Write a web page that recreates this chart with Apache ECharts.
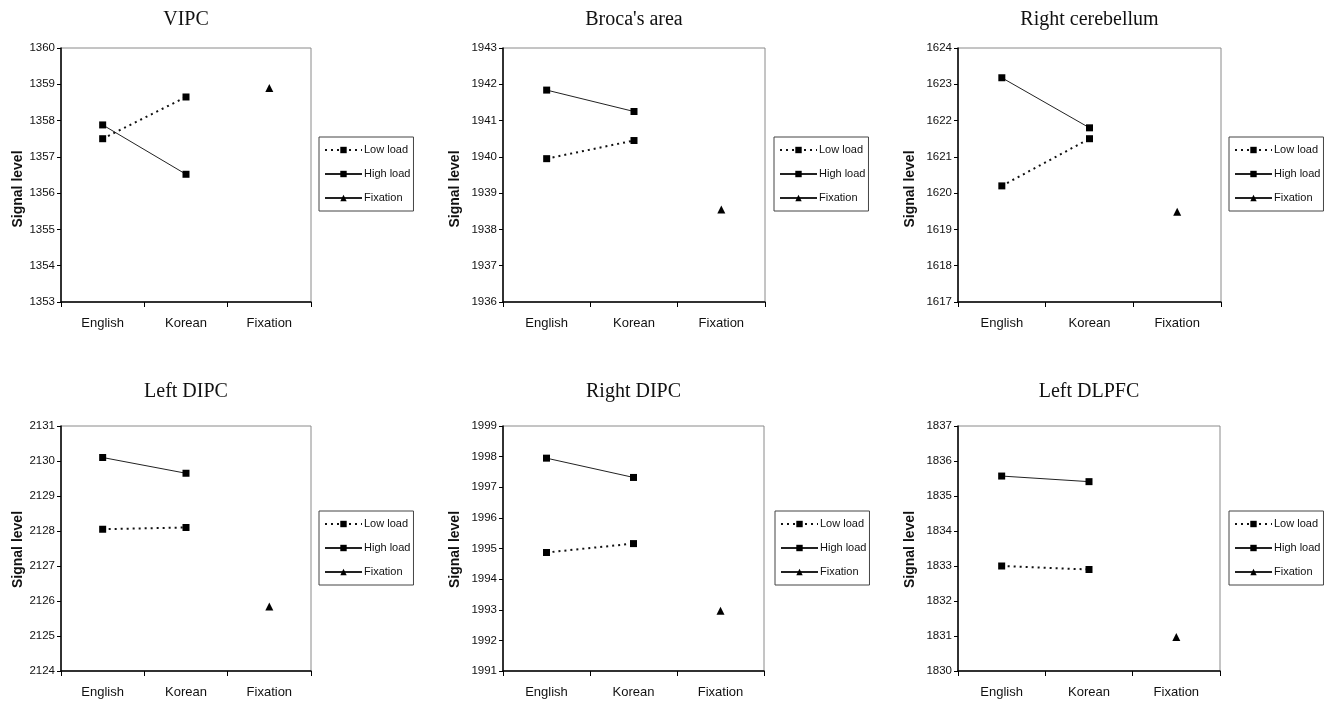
<!DOCTYPE html>
<html>
<head>
<meta charset="utf-8">
<script src="https://cdn.jsdelivr.net/npm/echarts@6/dist/echarts.min.js"></script>
<style>
html, body { margin: 0; padding: 0; background: #fff; }
#chart { width: 1325px; height: 701px; }
</style>
</head>
<body>
<div id="chart"></div>
<script>
const categories = ['English', 'Korean', 'Fixation'];
const regions = ['VIPC', "Broca's area", 'Right cerebellum', 'Left DIPC', 'Right DIPC', 'Left DLPFC'];
// [English, Korean] per region
const lowLoad = [[1357.5, 1358.65], [1939.95, 1940.45], [1620.2, 1621.5], [2128.05, 2128.1], [1994.87, 1995.16], [1833.0, 1832.9]];
const highLoad = [[1357.88, 1356.52], [1941.84, 1941.25], [1623.18, 1621.8], [2130.1, 2129.65], [1997.95, 1997.32], [1835.57, 1835.41]];
const fixation = [1358.9, 1938.55, 1619.49, 2125.84, 1992.97, 1830.97];
const yMin = [1353, 1936, 1617, 2124, 1991, 1830];
const yMax = [1360, 1943, 1624, 2131, 1999, 1837];

// panel layout (px)
const boxes = [
  { left: 61, top: 48, width: 250, height: 254, gap: 36, lx: 319, ly: 137, shift: 28, tt: 10 },
  { left: 503, top: 48, width: 262, height: 254, gap: 41, lx: 774, ly: 137, shift: 28, tt: 10 },
  { left: 958, top: 48, width: 263, height: 254, gap: 41, lx: 1229, ly: 137, shift: 28, tt: 10 },
  { left: 61, top: 426, width: 250, height: 245, gap: 36, lx: 319, ly: 511, shift: 2, tt: 382 },
  { left: 503, top: 426, width: 261, height: 245, gap: 41, lx: 775, ly: 511, shift: 2, tt: 382 },
  { left: 958, top: 426, width: 262, height: 245, gap: 41, lx: 1229, ly: 511, shift: 2, tt: 382 }
];

const sans = "'Liberation Sans', Arial, sans-serif";
const ink = '#111';

const grid = [], xAxis = [], yAxis = [], series = [], title = [], legend = [];

boxes.forEach((b, i) => {
  grid.push({
    left: b.left, top: b.top, width: b.width, height: b.height,
    show: true, borderColor: '#8a8a8a', borderWidth: 1,
    outerBoundsMode: 'none'
  });
  title.push({
    text: regions[i],
    left: b.left + b.width / 2,
    top: b.tt,
    textAlign: 'center',
    padding: 0,
    textStyle: { fontFamily: "'Liberation Serif', 'Times New Roman', serif", fontWeight: 'normal', fontSize: 20, color: ink }
  });
  xAxis.push({
    type: 'category', gridIndex: i, data: categories, boundaryGap: true,
    axisLine: { lineStyle: { color: '#000', width: 1.5 } },
    axisTick: { show: true, length: 5, alignWithLabel: false, lineStyle: { color: '#000' } },
    axisLabel: { fontFamily: sans, fontSize: 13, color: ink, margin: 15 },
    splitLine: { show: false }
  });
  yAxis.push({
    type: 'value', gridIndex: i, min: yMin[i], max: yMax[i], interval: 1,
    axisLine: { show: true, lineStyle: { color: '#000', width: 1.5 } },
    axisTick: { show: true, length: 4, lineStyle: { color: '#000' } },
    axisLabel: { fontFamily: sans, fontSize: 11.5, color: ink, margin: 6, formatter: v => String(v) },
    splitLine: { show: false },
    name: 'Signal level', nameLocation: 'middle', nameGap: b.gap,
    nameTextStyle: { fontFamily: sans, fontWeight: 'bold', fontSize: 14, color: ink, padding: [0, b.shift, 0, 0] }
  });
  series.push({
    name: 'Low load', type: 'line', xAxisIndex: i, yAxisIndex: i,
    data: lowLoad[i], symbol: 'rect', symbolSize: 7,
    itemStyle: { color: '#000' },
    lineStyle: { color: '#111', width: 2, type: [2, 4] }
  });
  series.push({
    name: 'High load', type: 'line', xAxisIndex: i, yAxisIndex: i,
    data: highLoad[i], symbol: 'rect', symbolSize: 7,
    itemStyle: { color: '#000' },
    lineStyle: { color: '#222', width: 1 }
  });
  series.push({
    name: 'Fixation', type: 'line', xAxisIndex: i, yAxisIndex: i,
    data: ['-', '-', fixation[i]], symbol: 'triangle', symbolSize: 8,
    itemStyle: { color: '#000' },
    lineStyle: { color: '#222', width: 1 }
  });
  legend.push({
    data: ['Low load', 'High load', 'Fixation'],
    orient: 'vertical', left: b.lx, top: b.ly,
    padding: [6, 3, 6, 5], itemGap: 10,
    itemWidth: 37, itemHeight: 8,
    borderColor: '#444', borderWidth: 1,
    selectedMode: false,
    textStyle: { fontFamily: sans, fontSize: 11, color: ink, padding: [0, 0, 0, -3], lineHeight: 14 }
  });
});

const chart = echarts.init(document.getElementById('chart'));
chart.setOption({
  animation: false,
  backgroundColor: '#fff',
  title, legend, grid, xAxis, yAxis, series
});
</script>
</body>
</html>
